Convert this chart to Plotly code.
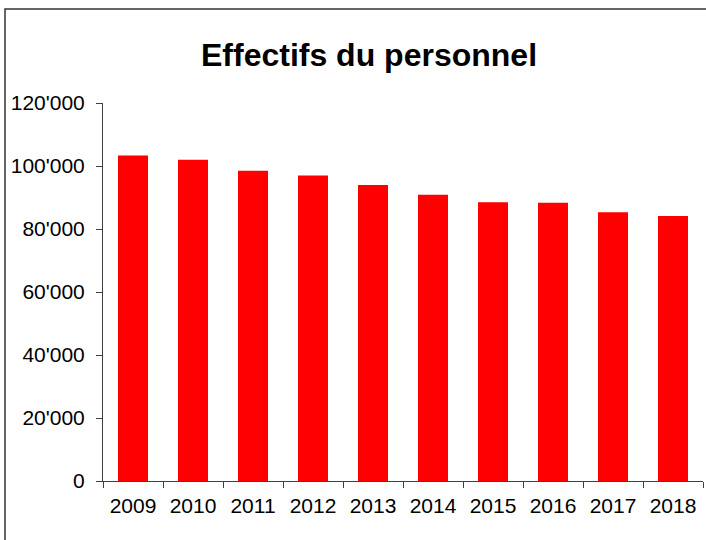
import plotly.graph_objects as go

years = ["2009", "2010", "2011", "2012", "2013", "2014", "2015", "2016", "2017", "2018"]
effectifs = [103300, 102000, 98500, 97000, 94000, 90900, 88500, 88300, 85300, 84100]
title_text = "Effectifs du personnel"
y_ticks = [0, 20000, 40000, 60000, 80000, 100000, 120000]

W, H = 706, 540
L, R, T, B = 103, 3, 103, 59
pw, ph = W - L - R, H - T - B

def px_x(x):
    return (x - L) / pw

def px_y(y):
    return (H - B - y) / ph

fig = go.Figure(go.Bar(x=years, y=effectifs, marker=dict(color="#FF0000", line=dict(width=0))))

fig.update_layout(
    width=W, height=H,
    margin=dict(l=L, r=R, t=T, b=B),
    paper_bgcolor="white", plot_bgcolor="white",
    separators=".'",
    bargap=0.5,
    showlegend=False,
    font=dict(family="Liberation Sans, Arial, sans-serif", color="black", size=21),
    title=dict(text="<b>" + title_text + "</b>", x=369 / W, xanchor="center",
               y=1 - 55 / H, yanchor="middle", yref="container",
               font=dict(size=32, family="Liberation Sans, Arial, sans-serif", color="black")),
    shapes=[dict(type="rect", xref="paper", yref="paper",
                 x0=px_x(5), x1=px_x(740), y0=px_y(560), y1=px_y(9),
                 line=dict(color="#333333", width=1.5), fillcolor="rgba(0,0,0,0)", layer="below")],
)

fig.update_yaxes(range=[0, 120000], tickvals=y_ticks, tickformat=",d",
                 showline=True, linecolor="#404040", linewidth=1,
                 ticks="outside", ticklen=6, tickcolor="#404040",
                 showgrid=False, zeroline=False, ticklabelstandoff=7,
                 tickfont=dict(size=21))
fig.update_xaxes(type="category", tickson="boundaries",
                 showline=True, linecolor="#404040", linewidth=1,
                 ticks="outside", ticklen=6, tickcolor="#404040",
                 showgrid=False, tickfont=dict(size=21), ticklabelstandoff=6)

fig.write_html("out.html", config={"displayModeBar": False},
               post_script="document.body.style.margin='0';document.body.style.overflow='hidden';")
